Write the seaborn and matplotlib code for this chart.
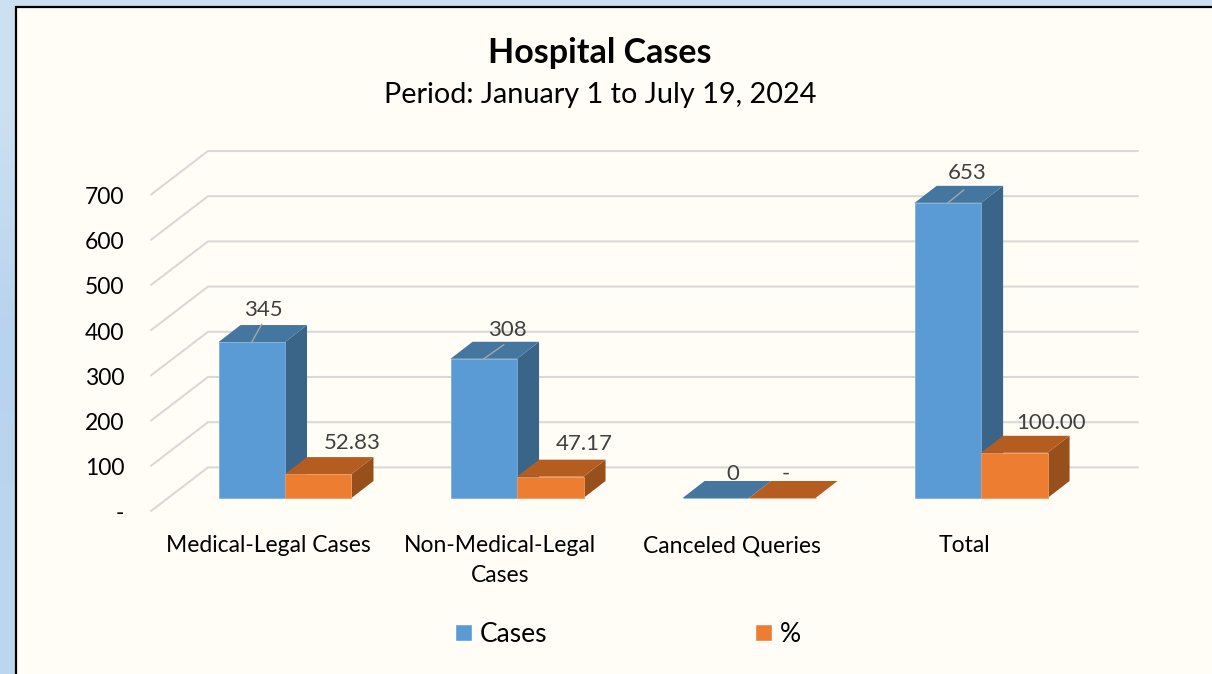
import numpy as np
import pandas as pd
import matplotlib
matplotlib.use("Agg")
import matplotlib.pyplot as plt
import seaborn as sns
from matplotlib.patches import Polygon, Rectangle
from matplotlib.transforms import ScaledTranslation, IdentityTransform

categories = ["Medical-Legal Cases", "Non-Medical-Legal\nCases", "Canceled Queries", "Total"]
cases = [345, 308, 0, 653]
percent = [52.83, 47.17, 0, 100.00]
case_labels = ["345", "308", "0", "653"]
percent_labels = ["52.83", "47.17", "-", "100.00"]
y_ticks = [0, 100, 200, 300, 400, 500, 600, 700]
y_tick_labels = ["-", "100", "200", "300", "400", "500", "600", "700"]

blue = ("#5B9BD5", "#44769F", "#3A6488", "#7FAEDD")
orange = ("#ED7D31", "#B55D20", "#97501C", "#F09A5F")
grid_col = "#D9D9D8"
W, H = 1212, 674

sns.set_theme(style="white")
plt.rcParams["font.family"] = ["Lato", "DejaVu Sans"]

df = pd.DataFrame({
    "category": categories * 2,
    "value": cases + percent,
    "series": ["Cases"] * 4 + ["%"] * 4,
})

fig = plt.figure(figsize=(W / 100, H / 100), dpi=100)

# page background + cream panel
bg = fig.add_axes([0, 0, 1, 1], zorder=-1)
grad = np.array([0.0, 0.5, 1.0]).reshape(-1, 1)
cmap = matplotlib.colors.LinearSegmentedColormap.from_list("page", ["#CDE0F2", "#B8D3EE", "#BDD6EF"])
bg.imshow(grad, aspect="auto", cmap=cmap, extent=(0, W, H, 0), interpolation="bilinear")
bg.add_patch(Rectangle((15.5, 6.5), W, H, facecolor="#FFFDF6", edgecolor="black", linewidth=1.6))
bg.set_xlim(0, W)
bg.set_ylim(H, 0)
bg.axis("off")

# axes box: value 0 of the bars sits at pixel row 498, scale .452 px per unit
ax = fig.add_axes([152 / W, 1 - 511 / H, (1118 - 152) / W, (511 - 151) / H])
ax.patch.set_alpha(0)
sns.barplot(data=df, x="category", y="value", hue="series", palette=[blue[0], orange[0]],
            hue_order=["Cases", "%"], order=categories, width=0.573, saturation=1, ax=ax)
ax.set_xlim(-0.5733, 3.59)
ax.set_ylim(-28.8, 767.7)
ax.set_xlabel("")
ax.set_ylabel("")
sns.despine(ax=ax, left=True, bottom=True, top=True, right=True)
ax.grid(False)

# tick_params resets label transforms, so it has to come before the shifts
ax.set_yticks(y_ticks)
ax.set_yticklabels(y_tick_labels, fontsize=16.5, color="black")
ax.tick_params(axis="y", length=0, pad=20)
ax.set_xticks(range(len(categories)))
ax.set_xticklabels(categories, fontsize=16.5, color="black", linespacing=1.53)
ax.tick_params(axis="x", length=0, pad=17.5)

floor = ScaledTranslation(0, -14 / 100, fig.dpi_scale_trans)
for t in ax.get_yticklabels():
    t.set_transform(t.get_transform() + floor)
shift = ScaledTranslation(-17 / 100, 0, fig.dpi_scale_trans)
for t in ax.get_xticklabels():
    t.set_transform(t.get_transform() + shift)


def px(x, y, dx=0, dy=0):
    p = ax.transData.transform((x, y))
    return (p[0] + dx, p[1] + dy)


def to_x(pixel):
    return ax.transData.inverted().transform((pixel, 0))[0]


# walls
for v in y_ticks:
    a = px(to_x(151), v, 0, -13)
    b = px(to_x(208), v, 0, 30.6)
    c = px(to_x(1138), v, 0, 30.6)
    ax.plot([a[0], b[0], c[0]], [a[1], b[1], c[1]], color=grid_col, lw=1.5,
            transform=IdentityTransform(), zorder=0.5, clip_on=False, solid_joinstyle="miter")

# 3d sides and tops worked out from the bars themselves
DX, DY = 22, 17
for container, cols, z in zip(ax.containers, (blue, orange), (2, 3)):
    for bar in container:
        x0, w, h = bar.get_x(), bar.get_width(), bar.get_height()
        bar.set_facecolor(cols[0])
        bar.set_edgecolor(cols[3])
        bar.set_linewidth(0.6)
        bar.set_zorder(z + 0.2)
        bl, br = px(x0, 0), px(x0 + w, 0)
        tl, tr = px(x0, h), px(x0 + w, h)
        if h > 0:
            ax.add_patch(Polygon([br, tr, (tr[0] + DX, tr[1] + DY), (br[0] + DX, br[1] + DY)],
                                 closed=True, facecolor=cols[2], edgecolor="none",
                                 transform=IdentityTransform(), zorder=z, clip_on=False))
        ax.add_patch(Polygon([tl, tr, (tr[0] + DX, tr[1] + DY), (tl[0] + DX, tl[1] + DY)],
                             closed=True, facecolor=cols[1], edgecolor="none",
                             transform=IdentityTransform(), zorder=z + 0.1, clip_on=False))

# value labels, offset in pixels from the top centre of each bar
case_offsets = [(12, 32), (24, 29), (17, 24), (19, 30)]
pct_offsets = [(34, 31), (34, 33), (3, 24), (37, 30)]
leaders = [(10, 18), (20, 14), None, (16, 13)]
for container, texts, offs in zip(ax.containers, (case_labels, percent_labels), (case_offsets, pct_offsets)):
    for bar, s, (ox, oy) in zip(container, texts, offs):
        c = px(bar.get_x() + bar.get_width() / 2, bar.get_height(), ox, oy)
        ax.text(c[0], c[1], s, transform=IdentityTransform(), ha="center", va="center",
                fontsize=16, color="#404040", zorder=6)
for bar, lead in zip(ax.containers[0], leaders):
    if lead:
        s = px(bar.get_x() + bar.get_width() / 2, bar.get_height())
        ax.plot([s[0], s[0] + lead[0]], [s[1], s[1] + lead[1]], color="#A6A6A6", lw=1,
                transform=IdentityTransform(), zorder=5, clip_on=False)

handles, labels = ax.get_legend_handles_labels()
ax.legend_.remove()
leg = fig.legend(handles, labels, loc="center", bbox_to_anchor=(628 / W, 1 - 634.5 / H), ncol=2,
                 frameon=False, fontsize=19, handlelength=0.62, handleheight=0.62,
                 handletextpad=0.3, columnspacing=7.9, labelcolor="black")

fig.text(600 / W, 1 - 53 / H, "Hospital Cases", ha="center", va="center", fontsize=24.5,
         fontweight="bold", color="black")
fig.text(600 / W, 1 - 95 / H, "Period: January 1 to July 19, 2024", ha="center", va="center",
         fontsize=20.8, color="black")

fig.savefig("out.png", dpi=100)
